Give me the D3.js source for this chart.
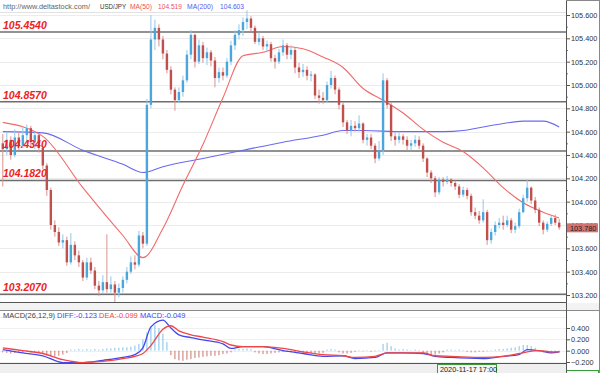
<!DOCTYPE html>
<html>
<head>
<meta charset="utf-8">
<script src="https://cdn.jsdelivr.net/npm/d3@7"></script>
<style>
  body { margin: 0; background: #fff; }
  svg { display: block; font-family: "Liberation Sans", Arial, sans-serif; }
</style>
</head>
<body>
<script>
// USD/JPY hourly candles (open = previous close)
const firstOpen = 104.50;
const closes = [
  104.45,104.53,104.40,104.55,104.48,104.57,104.63,104.51,104.57,104.46,
  104.31,104.10,103.80,103.74,103.65,103.67,103.48,103.63,103.54,103.48,
  103.35,103.48,103.41,103.28,103.24,103.31,103.25,103.29,103.22,103.26,
  103.33,103.40,103.48,103.46,103.71,103.64,104.83,105.39,105.49,105.39,
  105.27,105.13,104.96,104.87,104.94,105.04,105.26,105.43,105.20,105.34,
  105.23,105.28,105.21,105.06,105.11,105.08,105.20,105.34,105.43,105.47,
  105.54,105.57,105.49,105.37,105.40,105.33,105.35,105.23,105.20,105.28,
  105.34,105.26,105.30,105.15,105.11,105.13,105.08,105.09,104.91,104.89,
  104.87,105.00,105.06,104.96,104.83,104.68,104.61,104.65,104.63,104.67,
  104.53,104.55,104.48,104.37,104.44,105.04,104.83,104.56,104.53,104.56,
  104.53,104.48,104.50,104.53,104.48,104.37,104.25,104.20,104.08,104.19,
  104.17,104.19,104.16,104.13,104.06,104.10,104.05,103.91,103.88,103.84,
  103.91,103.67,103.74,103.80,103.82,103.80,103.84,103.76,103.79,103.91,
  104.03,104.12,104.01,103.93,103.82,103.76,103.81,103.86,103.82,103.78
];
const highs = [
  104.58,104.60,104.56,104.62,104.60,104.64,104.66,104.65,104.60,104.59,
  104.48,104.33,104.12,103.84,103.78,103.72,103.70,103.73,103.66,103.58,
  103.50,103.52,103.52,103.44,103.32,103.37,103.72,103.36,103.32,103.30,
  103.36,103.44,103.53,103.54,103.75,103.74,104.88,105.60,105.56,105.52,
  105.42,105.30,105.16,104.98,104.98,105.08,105.30,105.47,105.44,105.39,
  105.37,105.32,105.30,105.24,105.15,105.15,105.23,105.38,105.47,105.52,
  105.58,105.64,105.59,105.51,105.45,105.42,105.38,105.37,105.26,105.31,
  105.39,105.36,105.34,105.32,105.19,105.18,105.16,105.12,105.10,104.96,
  104.94,105.03,105.12,105.08,104.98,104.85,104.70,104.70,104.69,104.74,
  104.68,104.58,104.58,104.50,104.52,105.10,105.06,104.85,104.59,104.60,
  104.58,104.56,104.53,104.57,104.56,104.50,104.38,104.27,104.22,104.21,
  104.21,104.22,104.20,104.18,104.15,104.13,104.12,104.07,103.95,103.92,
  104.02,103.93,103.77,103.83,103.86,103.88,103.88,103.86,103.82,103.94,
  104.06,104.19,104.13,104.04,103.95,103.84,103.83,103.88,103.89,103.85
];
const lows = [
  104.13,104.40,104.36,104.38,104.44,104.46,104.50,104.47,104.45,104.42,
  104.28,104.05,103.76,103.70,103.62,103.60,103.45,103.46,103.50,103.44,
  103.32,103.33,103.38,103.25,103.19,103.21,103.22,103.22,103.14,103.18,
  103.22,103.30,103.38,103.42,103.44,103.60,103.62,104.80,105.30,105.33,
  105.22,105.10,104.92,104.78,104.85,104.90,105.02,105.22,105.15,105.18,
  105.19,105.17,105.16,104.98,105.02,105.04,105.06,105.17,105.30,105.39,
  105.42,105.48,105.46,105.35,105.34,105.30,105.28,105.20,105.14,105.18,
  105.25,105.22,105.22,105.10,105.06,105.07,105.04,105.03,104.88,104.84,
  104.84,104.85,104.97,104.92,104.79,104.64,104.58,104.56,104.60,104.60,
  104.50,104.48,104.45,104.33,104.35,104.40,104.80,104.52,104.48,104.50,
  104.49,104.44,104.44,104.47,104.45,104.34,104.21,104.16,104.04,104.06,
  104.13,104.15,104.13,104.10,104.03,104.04,104.02,103.88,103.85,103.81,
  103.82,103.63,103.64,103.71,103.77,103.76,103.78,103.73,103.73,103.77,
  103.90,104.00,103.98,103.90,103.79,103.72,103.74,103.79,103.80,103.76
];

// moving averages, sampled at candle indices
const ma50Idx = [0,10,20,30,35,40,45,50,55,60,65,70,75,80,85,90,95,100,105,110,115,120,125,130,135,139];
const ma50 = [104.68,104.56,104.12,103.71,103.52,103.77,104.14,104.49,104.89,105.25,105.28,105.33,105.31,105.24,105.15,104.97,104.87,104.76,104.62,104.51,104.43,104.29,104.12,103.99,103.91,103.86];
const ma200Idx = [0,10,20,30,35,40,50,60,70,80,85,90,100,110,115,120,125,130,135,139];
const ma200 = [104.60,104.59,104.44,104.32,104.25,104.30,104.37,104.44,104.51,104.57,104.61,104.61,104.60,104.60,104.61,104.64,104.67,104.69,104.69,104.64];

// MACD(26,12,9)
const macdIdx = [0,5,10,15,20,25,30,33,35,37,40,42,44,47,50,55,57,60,65,70,75,80,85,88,93,96,100,105,108,112,120,125,129,131,134,137,139];
const diff = [0.02,-0.04,-0.09,-0.21,-0.21,-0.17,-0.12,-0.07,0.05,0.42,0.54,0.40,0.28,0.23,0.19,0.12,0.04,0.07,0.07,0.00,-0.05,-0.10,-0.09,-0.14,-0.12,-0.04,-0.04,-0.05,-0.10,-0.12,-0.14,-0.10,-0.07,0.02,0.00,-0.04,-0.02];
const dea = [0.05,0.00,-0.05,-0.16,-0.21,-0.19,-0.14,-0.10,-0.05,0.09,0.38,0.44,0.35,0.28,0.24,0.16,0.10,0.07,0.07,0.04,-0.02,-0.07,-0.09,-0.12,-0.10,-0.04,-0.04,-0.04,-0.09,-0.10,-0.12,-0.10,-0.05,-0.02,0.00,-0.02,-0.02];
const hist = [
  -0.03,-0.04,-0.05,-0.04,-0.03,-0.03,-0.02,-0.03,-0.02,-0.03,
  -0.05,-0.07,-0.09,-0.10,-0.09,-0.07,-0.04,0.02,0.02,0.03,
  0.02,0.03,0.02,0.03,0.02,0.03,0.04,0.04,0.05,0.05,
  0.06,0.06,0.07,0.09,0.12,0.20,0.32,0.42,0.45,0.40,
  0.30,0.15,-0.08,-0.15,-0.17,-0.18,-0.16,-0.15,-0.13,-0.12,
  -0.11,-0.10,-0.09,-0.09,-0.08,-0.06,-0.05,-0.03,0.02,0.03,
  0.03,0.04,0.03,-0.03,-0.05,-0.06,-0.06,-0.05,-0.04,-0.03,
  -0.02,-0.02,-0.03,-0.03,-0.04,-0.04,-0.05,-0.05,-0.06,-0.05,
  -0.04,0.02,0.03,0.02,-0.03,-0.05,-0.05,-0.04,-0.02,0.01,
  -0.01,0.01,-0.02,-0.01,0.01,0.12,0.14,0.08,0.04,0.02,
  0.03,0.02,0.01,0.02,-0.01,-0.04,-0.06,-0.08,-0.07,-0.05,
  -0.03,0.02,0.02,0.01,0.02,0.01,-0.02,-0.03,-0.03,-0.02,
  -0.02,-0.01,0.01,0.02,0.03,0.03,0.04,0.05,0.06,0.08,
  0.10,0.10,0.08,0.05,-0.02,-0.03,-0.03,-0.04,-0.02,-0.03
];

// horizontal levels and axis ticks
const levels = [105.454, 104.857, 104.434, 104.182, 103.207];
const priceTicks = [103.2, 103.4, 103.6, 103.8, 104.0, 104.2, 104.4, 104.6, 104.8, 105.0, 105.2, 105.4, 105.6];
const minorTicks = [103.3, 103.5, 103.7, 103.9, 104.1, 104.3, 104.5, 104.7, 104.9, 105.1, 105.3, 105.5];
const macdTicks = [-0.2, 0, 0.2, 0.4];
const macdGrid = [-0.2, 0, 0.2, 0.4, 0.6];
const lastPrice = 103.78;

const width = 600, height = 373;
const plotRight = 566;
const mainBottom = 302;

const svg = d3.select("body").append("svg")
    .attr("width", width)
    .attr("height", height)
    .attr("viewBox", [0, 0, width, height]);

svg.append("rect").attr("width", width).attr("height", height).attr("fill", "#fff");

// scales
const x = d3.scaleBand().domain(d3.range(closes.length)).range([0, 562]).padding(0.4);
const cx = i => x(i) + x.bandwidth() / 2;
const y = d3.scaleLinear().domain([103.2, 105.6]).range([295, 15]);
const ym = d3.scaleLinear().domain([-0.2, 0.4]).range([362, 328]);

// ---- main panel ----
svg.append("clipPath").attr("id", "clip-main")
  .append("rect").attr("x", 0).attr("y", 0).attr("width", plotRight).attr("height", mainBottom);

const main = svg.append("g").attr("clip-path", "url(#clip-main)");

// faint grid
main.append("g")
  .selectAll("line")
  .data(priceTicks)
  .join("line")
    .attr("x1", 0).attr("x2", plotRight)
    .attr("y1", d => Math.round(y(d)) + 0.5)
    .attr("y2", d => Math.round(y(d)) + 0.5)
    .attr("stroke", "#ececec");

main.append("line")
    .attr("x1", 0).attr("x2", plotRight)
    .attr("y1", 12.5).attr("y2", 12.5)
    .attr("stroke", "#e2e2e2");

// levels
main.append("g")
  .selectAll("line")
  .data(levels)
  .join("line")
    .attr("x1", 0).attr("x2", plotRight)
    .attr("y1", d => y(d)).attr("y2", d => y(d))
    .attr("stroke", "#6e6e6e")
    .attr("stroke-width", 1.5);

// moving averages
const lineGen = d3.line().curve(d3.curveMonotoneX);
main.append("path")
    .attr("d", lineGen(ma200Idx.map((i, k) => [cx(i), y(ma200[k])])))
    .attr("fill", "none")
    .attr("stroke", "#6a6af0")
    .attr("stroke-width", 1.1);
main.append("path")
    .attr("d", lineGen(ma50Idx.map((i, k) => [cx(i), y(ma50[k])])))
    .attr("fill", "none")
    .attr("stroke", "#f26a6a")
    .attr("stroke-width", 1.1);

// candles
const candles = closes.map((c, i) => ({
  i, o: i ? closes[i - 1] : firstOpen, c, h: highs[i], l: lows[i]
}));
const up = d => d.c >= d.o;

const cg = main.append("g")
  .selectAll("g")
  .data(candles)
  .join("g");

cg.append("line")
    .attr("x1", d => cx(d.i)).attr("x2", d => cx(d.i))
    .attr("y1", d => y(d.h)).attr("y2", d => y(d.l))
    .attr("stroke", d => up(d) ? "#90c8ea" : "#d89290")
    .attr("stroke-width", 1);

cg.append("rect")
    .attr("x", d => x(d.i))
    .attr("width", x.bandwidth())
    .attr("y", d => y(Math.max(d.o, d.c)))
    .attr("height", d => Math.max(1, Math.abs(y(d.o) - y(d.c))))
    .attr("fill", d => up(d) ? "#4ba6dc" : "#c0504d");

// level labels
svg.append("g")
  .selectAll("text")
  .data(levels)
  .join("text")
    .attr("x", 3)
    .attr("y", d => y(d) - 3)
    .attr("fill", "#ee2222")
    .attr("font-size", 10.5)
    .attr("font-weight", "bold")
    .attr("font-style", "italic")
    .text(d => d.toFixed(4));

// header
const header = [
  { t: "http://www.deltastock.com/", x: 3, c: "#666", len: 87 },
  { t: "USD/JPY", x: 100, c: "#333", len: 26 },
  { t: "MA(50)", x: 130, c: "#f05050", len: 22 },
  { t: "104.519", x: 158, c: "#f05050", len: 24 },
  { t: "MA(200)", x: 187, c: "#5a5af0", len: 26 },
  { t: "104.603", x: 220, c: "#5a5af0", len: 24 }
];
svg.append("g")
  .selectAll("text")
  .data(header)
  .join("text")
    .attr("x", d => d.x)
    .attr("y", 8.5)
    .attr("font-size", 7.5)
    .attr("textLength", d => d.len)
    .attr("lengthAdjust", "spacingAndGlyphs")
    .attr("fill", d => d.c)
    .text(d => d.t);

// ---- separators ----
svg.append("rect").attr("x", 0).attr("y", 303).attr("width", width).attr("height", 7).attr("fill", "#f3f3f3");
svg.append("line").attr("x1", 0).attr("x2", plotRight).attr("y1", 302.5).attr("y2", 302.5).attr("stroke", "#555");
svg.append("line").attr("x1", 0).attr("x2", width).attr("y1", 310.5).attr("y2", 310.5).attr("stroke", "#8a8a8a");

// ---- MACD panel ----
const macd = svg.append("g");

macd.append("g")
  .selectAll("line")
  .data(macdGrid)
  .join("line")
    .attr("x1", 0).attr("x2", plotRight)
    .attr("y1", d => Math.round(ym(d)) + 0.5)
    .attr("y2", d => Math.round(ym(d)) + 0.5)
    .attr("stroke", "#f0f0f0");

macd.append("g")
  .selectAll("line")
  .data(hist)
  .join("line")
    .attr("x1", (d, i) => cx(i)).attr("x2", (d, i) => cx(i))
    .attr("y1", ym(0))
    .attr("y2", d => ym(d))
    .attr("stroke", d => d >= 0 ? "#7cc2ea" : "#c8766e")
    .attr("stroke-width", 1);

macd.append("path")
    .attr("d", lineGen(macdIdx.map((i, k) => [cx(i), ym(diff[k])])))
    .attr("fill", "none")
    .attr("stroke", "#4646f0")
    .attr("stroke-width", 1.3);
macd.append("path")
    .attr("d", lineGen(macdIdx.map((i, k) => [cx(i), ym(dea[k])])))
    .attr("fill", "none")
    .attr("stroke", "#f04646")
    .attr("stroke-width", 1.3);

const macdHeader = [
  { t: "MACD(26,12,9)", x: 3, c: "#444" },
  { t: "DIFF:-0.123", x: 57, c: "#4646f0" },
  { t: "DEA:-0.099", x: 99, c: "#f04646" },
  { t: "MACD:-0.049", x: 140, c: "#4646f0" }
];
macd.append("g")
  .selectAll("text")
  .data(macdHeader)
  .join("text")
    .attr("x", d => d.x)
    .attr("y", 318)
    .attr("font-size", 7.5)
    .attr("fill", d => d.c)
    .text(d => d.t);

// bottom strip
svg.append("rect").attr("x", 0).attr("y", 364).attr("width", plotRight).attr("height", 9).attr("fill", "#efefef");
svg.append("line").attr("x1", 0).attr("x2", plotRight).attr("y1", 363.5).attr("y2", 363.5).attr("stroke", "#555");
svg.append("rect").attr("x", 437.5).attr("y", 364.5).attr("width", 59).attr("height", 10)
    .attr("fill", "#f6f6f6").attr("stroke", "#3c9a3c");
svg.append("text").attr("x", 440).attr("y", 372).attr("font-size", 7.3).attr("fill", "#222")
    .text("2020-11-17 17:00");

// ---- right axes ----
const axisStyle = g => {
  g.select(".domain").remove();
  g.selectAll(".tick line").attr("stroke", "#555");
  g.selectAll(".tick text").attr("fill", "#333").attr("font-size", 7.3)
    .attr("font-family", "'Liberation Sans', Arial, sans-serif");
};

svg.append("g")
    .attr("transform", `translate(${plotRight},0)`)
    .call(d3.axisRight(y).tickValues(minorTicks).tickSize(2).tickFormat(""))
    .call(g => { g.select(".domain").remove(); g.selectAll(".tick line").attr("stroke", "#777"); });

svg.append("g")
    .attr("transform", `translate(${plotRight},0)`)
    .call(d3.axisRight(y).tickValues(priceTicks).tickSize(4).tickPadding(1).tickFormat(d3.format(".3f")))
    .call(axisStyle);

svg.append("g")
    .attr("transform", `translate(${plotRight},0)`)
    .call(d3.axisRight(ym).tickValues(macdTicks).tickSize(4).tickPadding(1).tickFormat(d3.format(".3f")))
    .call(axisStyle);

// current price marker
svg.append("rect")
    .attr("x", plotRight).attr("y", y(lastPrice) - 4)
    .attr("width", 32).attr("height", 9)
    .attr("fill", "#d27370");
svg.append("text")
    .attr("x", plotRight + 4).attr("y", y(lastPrice) + 3.5)
    .attr("font-size", 7.3).attr("fill", "#222")
    .text(lastPrice.toFixed(3));

// last MACD value box (cut by the bottom edge)
svg.append("rect").attr("x", plotRight + 0.5).attr("y", 370.5).attr("width", 32).attr("height", 10)
    .attr("fill", "#f6f6f6").attr("stroke", "#3c9a3c");

// frame lines
svg.append("line").attr("x1", plotRight + 0.5).attr("x2", plotRight + 0.5).attr("y1", 0).attr("y2", height).attr("stroke", "#555");
svg.append("line").attr("x1", 599.5).attr("x2", 599.5).attr("y1", 0).attr("y2", height).attr("stroke", "#888");
svg.append("line").attr("x1", plotRight).attr("x2", width).attr("y1", 0.5).attr("y2", 0.5).attr("stroke", "#888");
</script>
</body>
</html>
